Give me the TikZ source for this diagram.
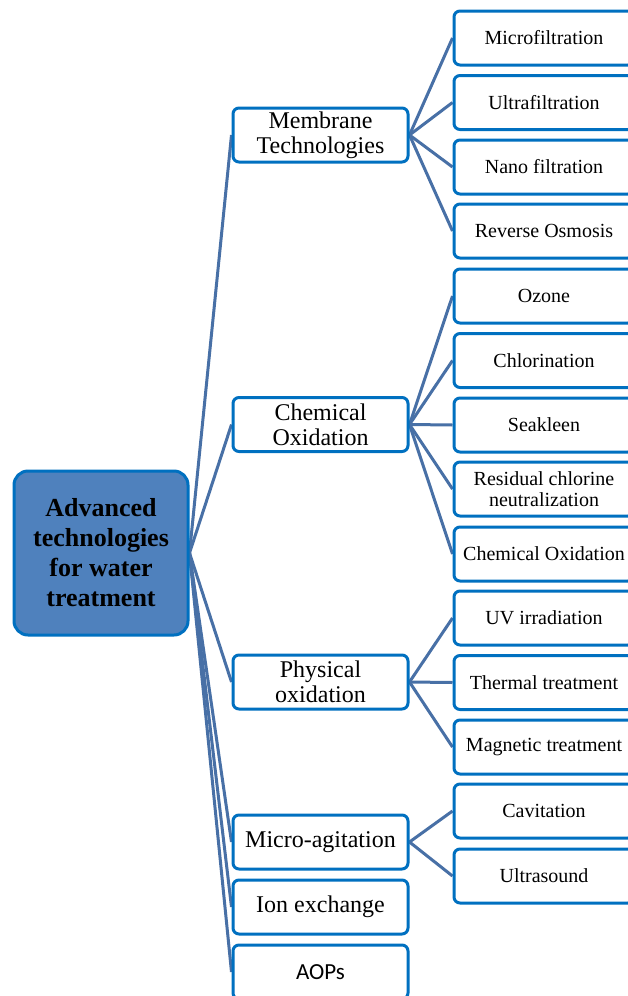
\documentclass[tikz,border=0pt]{standalone}
\usepackage{fontspec}
\setmainfont{Liberation Serif}
\newfontfamily\aopfont{Carlito}
\usetikzlibrary{backgrounds}
\definecolor{bordercol}{RGB}{0,112,192}
\definecolor{rootfill}{RGB}{79,129,189}
\definecolor{linecol}{RGB}{72,112,166}
\tikzset{
  rootbox/.style={draw=bordercol, line width=3pt, fill=rootfill, rounded corners=14pt,
    minimum width=174pt, minimum height=164pt, inner sep=0pt, align=center,
    font=\fontsize{26}{30}\selectfont\bfseries},
  lvone/.style={draw=bordercol, line width=3pt, fill=white, rounded corners=6pt,
    minimum width=175pt, minimum height=54pt, inner sep=0pt, align=center,
    font=\fontsize{24}{25}\selectfont},
  lvtwo/.style={draw=bordercol, line width=3pt, fill=white, rounded corners=6pt,
    minimum width=180pt, minimum height=54pt, inner sep=0pt, align=center,
    font=\fontsize{20}{21}\selectfont},
  conn/.style={draw=linecol, line width=3pt}
}
\begin{document}
\begin{tikzpicture}[x=1pt,y=-1pt]
\useasboundingbox (0,0) rectangle (628,996);
\clip (0,0) rectangle (628,996);
% root
\node[rootbox] (root) at (101,553) {Advanced\\technologies\\for water\\treatment};
% level 1
\node[lvone] (mem) at (320.5,135) {Membrane\\Technologies};
\node[lvone] (chem) at (320.5,424.5) {Chemical\\Oxidation};
\node[lvone] (phys) at (320.5,682) {Physical\\oxidation};
\node[lvone] (micro) at (320.5,842) {Micro-agitation};
\node[lvone] (ion) at (320.5,907) {Ion exchange};
\node[lvone, font=\aopfont\fontsize{23}{22}\selectfont] (aop) at (320.5,972) {AOPs};
% level 2
\node[lvtwo] (mf) at (544,38) {Microfiltration};
\node[lvtwo] (uf) at (544,102.5) {Ultrafiltration};
\node[lvtwo] (nf) at (544,167) {Nano filtration};
\node[lvtwo] (ro) at (544,231) {Reverse Osmosis};
\node[lvtwo] (oz) at (544,296) {Ozone};
\node[lvtwo] (cl) at (544,360.5) {Chlorination};
\node[lvtwo] (sk) at (544,425) {Seakleen};
\node[lvtwo] (rc) at (544,489) {Residual chlorine\\neutralization};
\node[lvtwo] (co) at (544,554) {Chemical Oxidation};
\node[lvtwo] (uv) at (544,618) {UV irradiation};
\node[lvtwo] (th) at (544,682.5) {Thermal treatment};
\node[lvtwo] (mg) at (544,747) {Magnetic treatment};
\node[lvtwo] (cv) at (544,811) {Cavitation};
\node[lvtwo] (us) at (544,876) {Ultrasound};
\begin{scope}[on background layer]
\fill[white] (0,0) rectangle (628,996);
\foreach \c in {mem,chem,phys,micro,ion,aop} \draw[conn] (root.east) -- (\c.west);
\foreach \c in {mf,uf,nf,ro} \draw[conn] (mem.east) -- (\c.west);
\foreach \c in {oz,cl,sk,rc,co} \draw[conn] (chem.east) -- (\c.west);
\foreach \c in {uv,th,mg} \draw[conn] (phys.east) -- (\c.west);
\foreach \c in {cv,us} \draw[conn] (micro.east) -- (\c.west);
\end{scope}
\end{tikzpicture}
\end{document}
